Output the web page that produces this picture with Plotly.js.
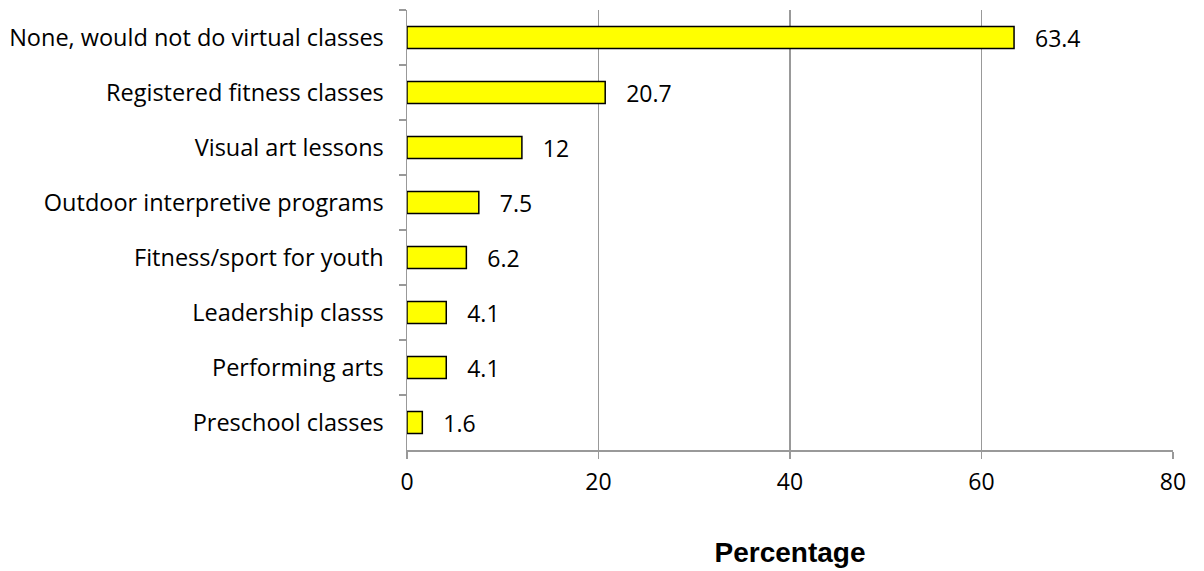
<!DOCTYPE html>
<html><head><meta charset="utf-8">
<script src="https://cdn.plot.ly/plotly-3.0.1.min.js"></script>
<style>html,body{margin:0;padding:0;background:#fff;}#chart{width:1204px;height:571px;}</style>
</head><body><div id="chart"></div>
<script>
const categories = ["None, would not do virtual classes","Registered fitness classes","Visual art lessons","Outdoor interpretive programs","Fitness/sport for youth","Leadership classs","Performing arts","Preschool classes"];
const values = [63.4, 20.7, 12, 7.5, 6.2, 4.1, 4.1, 1.6];
const xTicks = [0, 20, 40, 60, 80];

const font = "'Open Sans', sans-serif";
const trace = {
  type: "bar", orientation: "h",
  x: values, y: categories,
  marker: {color: "#FFFF00", line: {color: "#000000", width: 1.5}},
  text: values.map(v => "\u00a0\u00a0\u00a0" + v),
  textposition: "outside",
  constraintext: "none",
  textfont: {family: font, size: 23, color: "#000"},
  cliponaxis: false,
  hoverinfo: "none"
};
const layout = {
  width: 1204, height: 571,
  margin: {l: 407, r: 31, t: 10, b: 121},
  paper_bgcolor: "#fff", plot_bgcolor: "#fff",
  bargap: 0.6,
  showlegend: false,
  xaxis: {
    range: [0, 80], tickvals: xTicks, ticktext: xTicks.map(String),
    showgrid: true, gridcolor: "#999", gridwidth: 1.5,
    showline: true, linecolor: "#999", linewidth: 1.5,
    ticks: "outside", ticklen: 7, tickcolor: "#999", tickwidth: 1.5,
    tickfont: {family: font, size: 23, color: "#000"},
    ticklabelstandoff: 4,
    zeroline: false,
    title: {text: "<b>Percentage</b>", font: {family: "Arial, 'Liberation Sans', sans-serif", size: 28, color: "#000"}, standoff: 46}
  },
  yaxis: {
    type: "category", autorange: "reversed",
    showline: true, linecolor: "#999", linewidth: 1.5,
    ticks: "outside", ticklen: 7, tickcolor: "#999", tickwidth: 1.5,
    tickson: "boundaries",
    showgrid: false,
    tickfont: {family: font, size: 23.5, color: "#000"},
    ticklabelstandoff: 17
  }
};
Plotly.newPlot("chart", [trace], layout, {displayModeBar: false, staticPlot: true});
</script></body></html>
